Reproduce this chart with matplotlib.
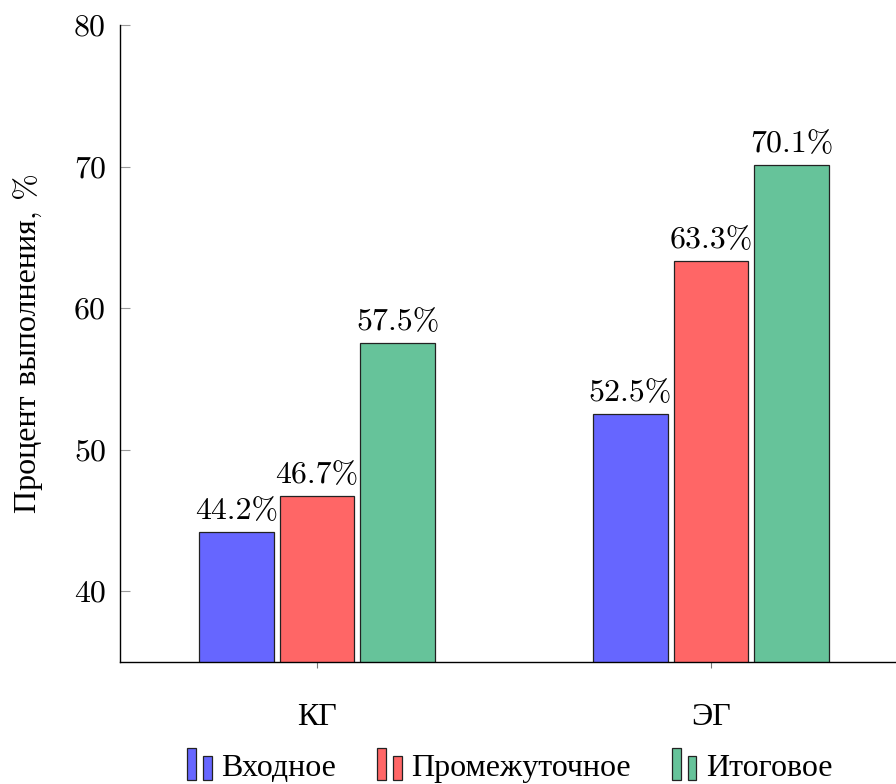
import matplotlib
matplotlib.use("Agg")
import matplotlib.pyplot as plt
from matplotlib.legend_handler import HandlerBase
from matplotlib.patches import Rectangle
import numpy as np

# Data
groups = ["КГ", "ЭГ"]
series_names = ["Входное", "Промежуточное", "Итоговое"]
vhodnoe = [44.2, 52.5]
promezh = [46.7, 63.3]
itog = [57.5, 70.1]
yticks = [40, 50, 60, 70, 80]

colors = ["#6666FF", "#FF6666", "#66C39A"]
plt.rcParams["font.family"] = ["cmr10", "Liberation Serif"]
plt.rcParams["mathtext.fontset"] = "cm"
FS = 23

fig = plt.figure(figsize=(8.96, 7.84), dpi=100)
ax = fig.add_axes([120 / 896, 1 - 662 / 784, 788 / 896, (662 - 25) / 784])

x = np.arange(len(groups))
width = 0.19
offsets = [-0.205, 0.0, 0.205]
all_vals = [vhodnoe, promezh, itog]

bars = []
for vals, off, col, name in zip(all_vals, offsets, colors, series_names):
    b = ax.bar(x + off, vals, width, color=col, edgecolor="#222222",
               linewidth=0.9, label=name, zorder=2)
    bars.append(b)
    for xi, v in zip(x, vals):
        ax.annotate(f"{v:.1f}%", (xi + off, v), xytext=(0, 5),
                    textcoords="offset points", ha="center", va="bottom",
                    fontsize=FS)

ax.set_xlim(-0.5, 1.5)
ax.set_ylim(35, 80)
ax.set_yticks(yticks)
ax.set_yticklabels([str(t) for t in yticks])
ax.set_xticks(x)
ax.set_xticklabels(groups)

for s in ("top", "right"):
    ax.spines[s].set_visible(False)
for s in ("left", "bottom"):
    ax.spines[s].set_linewidth(1.0)
    ax.spines[s].set_color("black")
    ax.spines[s].set_zorder(3)

ax.tick_params(axis="y", direction="in", length=7.5, width=0.8,
               color="#999999", pad=10, labelsize=FS)
ax.tick_params(axis="x", direction="inout", length=8, width=0.8,
               color="#777777", pad=26, labelsize=FS)
ax.set_ylabel("Процент выполнения, %", fontsize=FS)
ax.yaxis.set_label_coords(-0.098, 0.5)


class TwoBarHandler(HandlerBase):
    """Legend key drawn as a pair of small bars (tall + short)."""

    def __init__(self, color):
        super().__init__()
        self.color = color

    def create_artists(self, legend, orig_handle, xdescent, ydescent,
                       width, height, fontsize, trans):
        h = height
        base = -ydescent - 0.18 * h
        r1 = Rectangle((-xdescent, base), 0.33 * width, 1.4 * h,
                       facecolor=self.color, edgecolor="#222222", lw=0.9,
                       transform=trans)
        r2 = Rectangle((-xdescent + 0.62 * width, base),
                       0.33 * width, 1.07 * h,
                       facecolor=self.color, edgecolor="#222222", lw=0.9,
                       transform=trans)
        return [r1, r2]


handles = [b.patches[0] for b in bars]
fig.legend(handles, series_names, loc="lower center",
           bbox_to_anchor=(0.569, -0.035), ncol=3, frameon=False,
           fontsize=FS, handlelength=0.8, handleheight=0.7,
           handletextpad=0.25, columnspacing=1.3,
           handler_map={h: TwoBarHandler(c) for h, c in zip(handles, colors)})

fig.savefig("out.png", dpi=100)
